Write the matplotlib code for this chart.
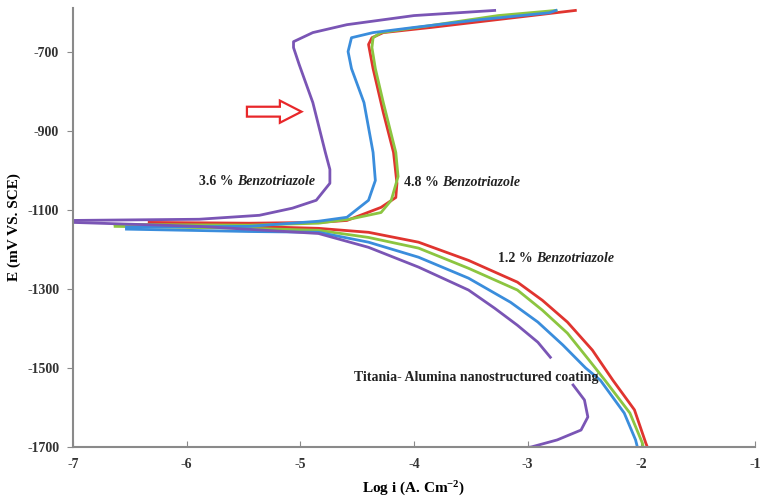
import numpy as np
import matplotlib
matplotlib.use("Agg")
import matplotlib.pyplot as plt
from matplotlib.patches import FancyArrow

plt.rcParams['font.family'] = ['Liberation Serif', 'DejaVu Serif']
plt.rcParams['mathtext.fontset'] = 'custom'
plt.rcParams['mathtext.rm'] = 'Liberation Serif'
plt.rcParams['mathtext.bf'] = 'Liberation Serif:bold'

# Polarization curves: log current density (A/cm2) vs potential (mV vs SCE)
# Titania-Alumina coating (purple)
ti_anodic_x = [-7.00, -5.89, -5.36, -5.07, -4.86, -4.74, -4.74, -4.78, -4.89, -5.01, -5.06, -5.06, -4.89, -4.59, -4.00, -3.29]
ti_anodic_y = [-1127, -1124, -1114, -1096, -1076, -1033, -998, -955, -829, -733, -690, -675, -652, -632, -609, -596]
ti_cathodic_x = [-7.00, -5.89, -4.84, -4.40, -3.96, -3.52, -3.29, -3.09, -2.91, -2.80, np.nan,
                 -2.60, -2.50, -2.47, -2.53, -2.74, -2.97, -3.15]
ti_cathodic_y = [-1132, -1142, -1160, -1195, -1245, -1303, -1349, -1392, -1435, -1473, np.nan,
                 -1543, -1581, -1624, -1657, -1682, -1700, -1705]

# 3.6 % Benzotriazole (blue)
b36_anodic_x = [-6.53, -5.45, -4.84, -4.59, -4.40, -4.34, -4.36, -4.44, -4.55, -4.58, -4.55, -4.36, -4.00, -3.41, -2.81, -2.75]
b36_anodic_y = [-1144, -1142, -1129, -1119, -1076, -1026, -955, -829, -743, -700, -665, -652, -639, -619, -602, -596]
b36_cathodic_x = [-6.53, -5.45, -4.84, -4.40, -3.96, -3.52, -3.15, -2.91, -2.69, -2.49, -2.36, -2.15, -2.05, -2.03]
b36_cathodic_y = [-1149, -1155, -1157, -1182, -1220, -1273, -1334, -1384, -1442, -1500, -1531, -1614, -1682, -1705]

# 4.8 % Benzotriazole (green)
b48_anodic_x = [-6.63, -5.45, -4.84, -4.57, -4.29, -4.20, -4.14, -4.16, -4.27, -4.34, -4.37, -4.36, -4.29, -3.85, -3.26, -2.75]
b48_anodic_y = [-1137, -1139, -1134, -1124, -1107, -1076, -1016, -955, -829, -743, -690, -665, -652, -634, -609, -596]
b48_cathodic_x = [-6.63, -5.45, -4.84, -4.40, -3.96, -3.52, -3.09, -2.87, -2.65, -2.46, -2.32, -2.10, -1.99, -1.98]
b48_cathodic_y = [-1142, -1147, -1152, -1170, -1197, -1248, -1303, -1354, -1412, -1480, -1531, -1614, -1690, -1705]

# 1.2 % Benzotriazole (red)
b12_anodic_x = [-6.33, -5.45, -4.84, -4.59, -4.29, -4.16, -4.15, -4.18, -4.27, -4.36, -4.40, -4.37, -4.27, -3.85, -3.26, -2.58]
b12_anodic_y = [-1132, -1134, -1132, -1127, -1094, -1069, -1033, -955, -854, -743, -682, -665, -652, -639, -619, -596]
b12_cathodic_x = [-6.33, -5.45, -4.84, -4.40, -3.96, -3.52, -3.09, -2.87, -2.65, -2.43, -2.25, -2.06, -1.96, -1.94]
b12_cathodic_y = [-1137, -1142, -1147, -1157, -1182, -1228, -1283, -1329, -1384, -1455, -1531, -1606, -1690, -1705]

x_ticks = [-7, -6, -5, -4, -3, -2, -1]
y_ticks = [-700, -900, -1100, -1300, -1500, -1700]

purple = '#7a55b5'
blue = '#3a8ddc'
green = '#8cc540'
red = '#e0342f'

fig = plt.figure(figsize=(7.61, 5.04), dpi=100)
ax = fig.add_axes([0.096, 0.113, 0.896, 0.871])

lw = 2.0
ax.plot(b12_anodic_x, b12_anodic_y, color=red, lw=lw)
ax.plot(b12_cathodic_x, b12_cathodic_y, color=red, lw=lw)
ax.plot(b48_anodic_x, b48_anodic_y, color=green, lw=lw)
ax.plot(b48_cathodic_x, b48_cathodic_y, color=green, lw=lw)
ax.plot(b36_anodic_x, b36_anodic_y, color=blue, lw=lw)
ax.plot(b36_cathodic_x, b36_cathodic_y, color=blue, lw=lw)
ax.plot(ti_anodic_x, ti_anodic_y, color=purple, lw=lw)
ax.plot(ti_cathodic_x, ti_cathodic_y, color=purple, lw=lw)

ax.set_xlim(-7, -1)
ax.set_ylim(-1700, -590)
ax.set_xticks(x_ticks)
ax.set_yticks(y_ticks)
ax.set_xticklabels([str(t) for t in x_ticks])
ax.set_yticklabels([str(t) for t in y_ticks])

for s in ['top', 'right']:
    ax.spines[s].set_visible(False)
for s in ['left', 'bottom']:
    ax.spines[s].set_color('#8a8a8a')
    ax.spines[s].set_linewidth(1.5)
ax.tick_params(axis='x', direction='in', length=4, color='#8a8a8a', pad=8,
               labelsize=10, labelcolor='#333333')
ax.tick_params(axis='y', direction='out', length=4, color='#8a8a8a', pad=6,
               labelsize=10, labelcolor='#333333')
for lab in ax.get_xticklabels() + ax.get_yticklabels():
    lab.set_fontweight('bold')

ax.set_xlabel('Log i (A. Cm$\\mathbf{^{-2}}$)', fontsize=11, fontweight='bold', labelpad=6)
ax.set_ylabel('E (mV VS. SCE)', fontsize=11, fontweight='bold', labelpad=4)


def label(x, y, prefix, name):
    t = ax.text(x, y, prefix, fontsize=10, fontweight='bold', va='center', ha='left', color='#222222')
    ax.annotate(name, xy=(1, 0), xycoords=t, va='bottom', ha='left', fontsize=10,
                fontweight='bold', fontstyle='italic', color='#222222')


label(-5.89, -1028, '3.6 % ', 'Benzotriazole')
label(-4.09, -1030, '4.8 % ', 'Benzotriazole')
label(-3.26, -1223, '1.2 % ', 'Benzotriazole')
ax.text(-4.53, -1523, 'Titania- Alumina nanostructured coating', fontsize=10,
        fontweight='bold', va='center', ha='left', color='#222222')

# hollow arrow pointing at the passive region
arrow = FancyArrow(-5.47, -852, 0.48, 0, width=25, head_width=56, head_length=0.19,
                   length_includes_head=True, fill=False, edgecolor='#e8272a', lw=1.6)
ax.add_patch(arrow)

fig.savefig('out.png', dpi=100)
